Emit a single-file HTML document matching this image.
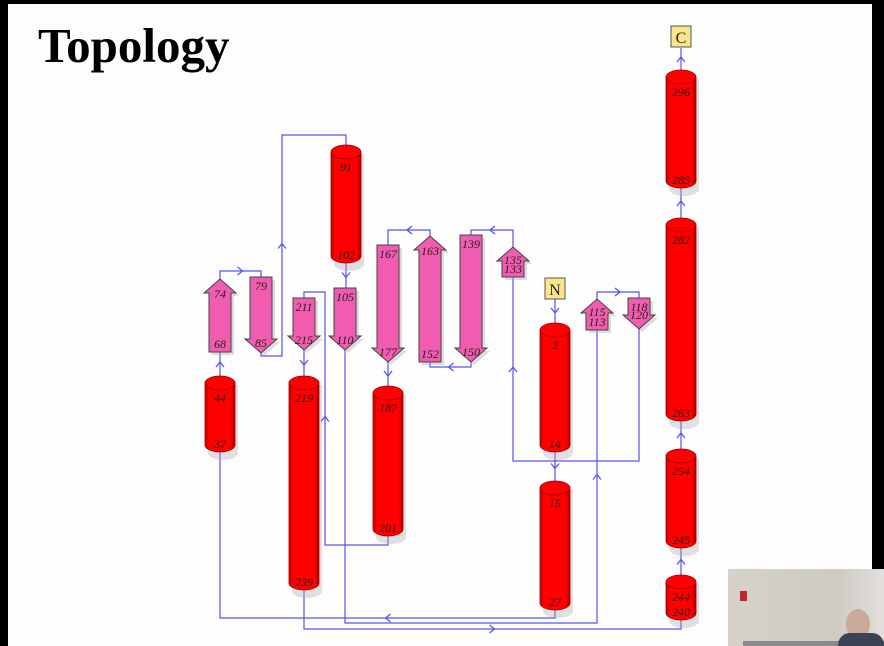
<!DOCTYPE html>
<html><head><meta charset="utf-8"><style>
html,body{margin:0;padding:0;width:884px;height:646px;overflow:hidden;background:#000;}
#slide{position:absolute;left:8px;top:4px;width:864px;height:642px;background:#fdfdfd;}
#title{position:absolute;left:38px;top:17px;font:bold 49px "Liberation Serif",serif;color:#000;margin:0;}
#cam{position:absolute;left:728px;top:569px;width:156px;height:77px;background:linear-gradient(90deg,#d6d1cb,#cfcac4 70%,#e2dfdc);}
#svg{position:absolute;left:0;top:0;}
</style></head><body>
<div id="slide"></div>
<h1 id="title">Topology</h1>
<svg id="svg" width="884" height="646">
<defs>
<linearGradient id="hg" x1="0" x2="1"><stop offset="0" stop-color="#c80000"/><stop offset="0.15" stop-color="#ff0000"/><stop offset="0.85" stop-color="#ff0000"/><stop offset="1" stop-color="#b00000"/></linearGradient>
</defs>
<g id="loops"></g><g id="shapes"></g>
</svg>
<div id="cam">
<div style="position:absolute;left:12px;top:22px;width:7px;height:10px;background:#c0262a"></div>
<div style="position:absolute;left:15px;top:72px;width:141px;height:5px;background:#8a8a8a"></div>
<div style="position:absolute;left:118px;top:40px;width:24px;height:30px;border-radius:50%;background:#c9a99a"></div>
<div style="position:absolute;left:110px;top:64px;width:46px;height:13px;border-radius:12px 12px 0 0;background:#3b4456"></div>
</div>
<script>
const NS='http://www.w3.org/2000/svg';
// helices: x, top, bottom, top label, bottom label
const helixX=[220,304,346,388,555,555,681,681,681,681];
const helixTop=[376,376,145,386,323,481,70,218,449,575];
const helixBot=[452,590,263,536,452,610,188,421,548,620];
const helixLabels=[["44","37"],["219","239"],["91","102"],["187","201"],["2","14"],["15","27"],["296","285"],["282","263"],["254","245"],["244","240"]];
// strands: x, top, bottom, direction (1 up, -1 down), labels
const strandX=[220,261,304,345,388,430,471,513,597,639];
const strandTop=[279,277,298,288,245,236,235,247,299,298];
const strandBot=[352,353,350,350,362,362,362,277,330,329];
const strandDir=[1,-1,-1,-1,-1,1,-1,1,1,-1];
const strandLabels=[["74","68"],["79","85"],["211","215"],["105","110"],["167","177"],["163","152"],["139","150"],["135","133"],["115","113"],["118","120"]];
const termLabels=["N","C"];
const termX=[555,681];
const termY=[289,37];
// loops as polylines
const loops=[
[[555,299],[555,323]],
[[555,452],[555,481]],
[[555,610],[555,618],[220,618],[220,452]],
[[220,376],[220,352]],
[[220,279],[220,271],[261,271],[261,277]],
[[261,353],[261,356],[282,356],[282,135],[346,135],[346,145]],
[[346,263],[346,288]],
[[345,350],[345,623],[597,623],[597,330]],
[[597,299],[597,292],[639,292],[639,298]],
[[639,329],[639,461],[513,461],[513,277]],
[[513,247],[513,230],[471,230],[471,235]],
[[471,362],[471,367],[430,367],[430,362]],
[[430,236],[430,230],[388,230],[388,245]],
[[388,362],[388,386]],
[[388,536],[388,545],[325,545],[325,292],[304,292],[304,298]],
[[304,350],[304,376]],
[[304,590],[304,629],[681,629],[681,620]],
[[681,575],[681,548]],
[[681,449],[681,421]],
[[681,218],[681,188]],
[[681,70],[681,48]]
];
const L=document.getElementById('loops'),S=document.getElementById('shapes');
function mk(t,a,p){const e=document.createElementNS(NS,t);for(const k in a)e.setAttribute(k,a[k]);(p||S).appendChild(e);return e;}
loops.forEach((pts,i)=>{
 const pl=mk('polyline',{points:pts.map(p=>p.join(',')).join(' '),fill:'none',stroke:'#5555ee','stroke-width':1.2},L);
 
 
 let best=0,bi=0;for(let j=0;j<pts.length-1;j++){const d=Math.abs(pts[j+1][0]-pts[j][0])+Math.abs(pts[j+1][1]-pts[j][1]);if(d>best){best=d;bi=j;}}
 const a=pts[bi],b=pts[bi+1],mx=(a[0]+b[0])/2,my=(a[1]+b[1])/2;
 const dx=Math.sign(b[0]-a[0]),dy=Math.sign(b[1]-a[1]);
 const tri=[[mx-dx*3+dy*4,my-dy*3+dx*4],[mx+dx*2,my+dy*2],[mx-dx*3-dy*4,my-dy*3-dx*4]];
 const ch=mk('polyline',{points:tri.map(p=>p.join(',')).join(' '),fill:'none',stroke:'#5555ee','stroke-width':1.3},L);
 
 
});
function txt(x,y,s,p){const t=mk('text',{x:x,y:y,'text-anchor':'middle','font-family':'Liberation Serif, serif','font-style':'italic','font-size':12,fill:'#222'},p);t.textContent=s;return t;}
helixX.forEach((x,i)=>{
 const g=mk('g',{});
 
 
 const t=helixTop[i],b=helixBot[i],w=15;
 mk('path',{d:`M${x-w+3},${t+9} V${b+1} A${w},7 0 0 0 ${x+w+3},${b+1} V${t+9}Z`,fill:'#aaa',opacity:0.35},g);
 mk('path',{d:`M${x-w},${t+7} V${b-7} A${w},7 0 0 0 ${x+w},${b-7} V${t+7}Z`,fill:'url(#hg)',stroke:'#900','stroke-width':0.8},g);
 mk('ellipse',{cx:x,cy:t+7,rx:w,ry:7,fill:'#ff0000',stroke:'#900','stroke-width':0.8},g);
 txt(x,t+26,helixLabels[i][0],g);
 txt(x,b-4,helixLabels[i][1],g);
});
strandX.forEach((x,i)=>{
 const g=mk('g',{});
 
 
 const t=strandTop[i],b=strandBot[i],bw=11,hw=16,hl=14;let d;
 if(strandDir[i]>0) d=`M${x},${t} L${x+hw},${t+hl} H${x+bw} V${b} H${x-bw} V${t+hl} H${x-hw}Z`;
 else d=`M${x},${b} L${x+hw},${b-hl} H${x+bw} V${t} H${x-bw} V${b-hl} H${x-hw}Z`;
 mk('path',{d:d,fill:'#aaa',opacity:0.4,transform:'translate(3,3)'},g);
 mk('path',{d:d,fill:'#f25cb0',stroke:'#444','stroke-width':1},g);
 const short=(b-t)<40;
 txt(x,strandDir[i]>0&&short?t+17:t+(strandDir[i]>0?19:13),strandLabels[i][0],g);
 txt(x,strandDir[i]<0&&short?b-10:b-(strandDir[i]<0?6:4),strandLabels[i][1],g);
});
termLabels.forEach((s,i)=>{
 const g=mk('g',{});
 
 
 mk('rect',{x:termX[i]-10,y:termY[i]-11,width:20,height:21,fill:'#fbe58a',stroke:'#555'},g);
 const t=mk('text',{x:termX[i],y:termY[i]+6,'text-anchor':'middle','font-family':'Liberation Serif, serif','font-size':16,fill:'#222'},g);t.textContent=s;
});
</script>
</body></html>
